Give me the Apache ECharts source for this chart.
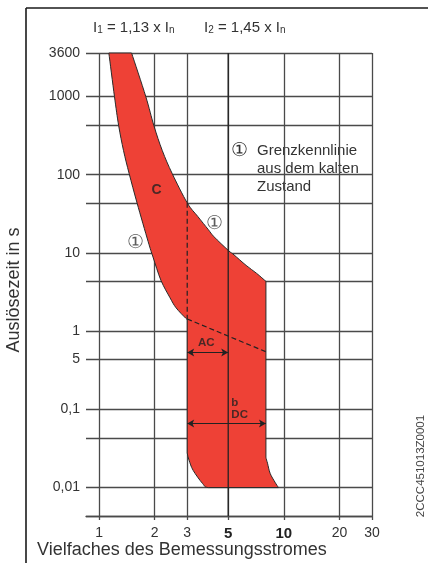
<!DOCTYPE html>
<html>
<head>
<meta charset="utf-8">
<script src="https://cdn.jsdelivr.net/npm/echarts@6/dist/echarts.min.js"></script>
<style>
  html, body { margin: 0; padding: 0; background: #fff; }
  #chart { width: 428px; height: 563px; }
</style>
</head>
<body>
<div id="chart"></div>
<script>
// Auslösekennlinie C: Vielfaches des Bemessungsstromes (x) gegen Auslösezeit in s (y)

// axis ticks and grid
const xTicks = [1, 2, 3, 5, 10, 20, 30];
const yGridValues = [0.00433, 0.01, 0.0433, 0.1, 0.433, 1, 4.33, 10, 43.3, 100, 433, 1000, 3600];
const yLabelValues = [0.01, 0.1, 0.433, 1, 10, 100, 1000, 3600];
const yLabelTexts = ['0,01', '0,1', '5', '1', '10', '100', '1000', '3600'];

// lower limit of the band (from 1 h down to the instantaneous release)
const lowerCurveX = [1.13, 1.212, 1.277, 1.357, 1.456, 1.607, 1.845, 1.959, 2.163, 2.42, 2.61, 2.94, 3];
const lowerCurveY = [3600, 1000, 425, 203, 103, 43.3, 13.9, 8.87, 4.46, 2.68, 1.99, 1.47, 1.43];
// upper limit of the band (from 1 h down to the corner of the instantaneous release)
const upperCurveX = [1.5, 1.79, 1.98, 2.2, 2.49, 3, 3.42, 3.9, 4.19, 5, 5.38, 6.25, 7.11, 8];
const upperCurveY = [3600, 1000, 425, 203, 103, 43.7, 29.3, 19.9, 16.1, 10.8, 9.42, 6.93, 5.5, 4.33];
// instantaneous release: foot of the left edge
const leftFootX = [3, 3.07, 3.23, 3.63, 3.9];
const leftFootY = [0.0277, 0.0224, 0.0166, 0.0113, 0.01];
// instantaneous release: foot of the right edge (top to bottom)
const rightFootX = [8, 8.16, 8.43, 8.96, 9.35];
const rightFootY = [0.0245, 0.0205, 0.0152, 0.0117, 0.01];

// dashed limit lines
const dashVerticalX = [3, 3];
const dashVerticalY = [43.7, 1.43];
const dashSlopeX = [3, 8];
const dashSlopeY = [1.43, 0.545];

// AC / DC ranges of the instantaneous release
const acRange = [3, 5];
const acTime = 0.533;
const dcRange = [3, 8];
const dcTime = 0.0658;

const RED = '#EE4136';
const INK = '#333333';
const GRID = '#4a4a4a';
const FONT = '"Liberation Sans", Arial, Helvetica, sans-serif';

const zip = (xs, ys) => xs.map((x, i) => [x, ys[i]]);

// Catmull-Rom segments through pixel points (p[0] is assumed to be the current point)
function smoothSegs(p, before, after) {
  let d = '';
  for (let i = 0; i < p.length - 1; i++) {
    const p0 = i === 0 ? (before || p[0]) : p[i - 1];
    const p1 = p[i], p2 = p[i + 1];
    const p3 = i + 2 < p.length ? p[i + 2] : (after || p2);
    const c1 = [p1[0] + (p2[0] - p0[0]) / 6, p1[1] + (p2[1] - p0[1]) / 6];
    const c2 = [p2[0] - (p3[0] - p1[0]) / 6, p2[1] - (p3[1] - p1[1]) / 6];
    d += ' C' + c1[0] + ',' + c1[1] + ' ' + c2[0] + ',' + c2[1] + ' ' + p2[0] + ',' + p2[1];
  }
  return d;
}

function bandPath(api) {
  const c = p => api.coord(p);
  const lower = zip(lowerCurveX, lowerCurveY).map(c);
  const leftFoot = zip(leftFootX, leftFootY).map(c);
  const rightFoot = zip(rightFootX, rightFootY).map(c).reverse();
  const upper = zip(upperCurveX, upperCurveY).map(c).reverse();
  const pt = p => p[0] + ',' + p[1];
  // short vertical lead-ins keep the feet tangent to the straight edges
  const leftLead = c([leftFootX[0], leftFootY[0] * 1.25]);
  const rightLead = c([rightFootX[0], rightFootY[0] * 1.25]);
  let d = 'M' + pt(lower[0]);
  d += smoothSegs(lower);
  d += ' L' + pt(leftFoot[0]);
  d += smoothSegs(leftFoot, leftLead, c([5, leftFootY[leftFootY.length - 1]]));
  d += ' L' + pt(rightFoot[0]);
  d += smoothSegs(rightFoot, null, rightLead);
  d += ' L' + pt(upper[0]);
  d += smoothSegs(upper);
  d += ' Z';
  return d;
}

const chart = echarts.init(document.getElementById('chart'), null, { renderer: 'canvas' });

chart.setOption({
  animation: false,
  backgroundColor: '#ffffff',
  grid: { left: 86, right: 56, top: 53, bottom: 47 },
  xAxis: {
    type: 'log',
    logBase: 10,
    min: 0.85,
    max: 30,
    axisLine: { show: true, lineStyle: { color: GRID, width: 1.3 } },
    axisTick: { show: true, customValues: xTicks, length: 4, lineStyle: { color: GRID, width: 1.3 } },
    axisLabel: {
      customValues: xTicks,
      margin: 10,
      color: INK,
      fontSize: 14,
      fontFamily: FONT,
      formatter: v => {
        const n = Math.round(v);
        return (n === 5 || n === 10) ? '{b|' + n + '}' : String(n);
      },
      rich: { b: { fontWeight: 'bold', fontSize: 15, color: '#222', fontFamily: FONT } }
    },
    splitLine: { show: true, lineStyle: { color: GRID, width: 1.3 } },
    minorTick: { show: false },
    minorSplitLine: { show: false }
  },
  yAxis: {
    type: 'log',
    logBase: 10,
    min: 0.00433,
    max: 3600,
    axisLine: { show: false },
    axisTick: { show: false, customValues: yGridValues },
    axisLabel: {
      customValues: yLabelValues,
      margin: 6,
      color: INK,
      fontSize: 14,
      fontFamily: FONT,
      formatter: v => {
        let best = 0;
        yLabelValues.forEach((t, i) => {
          if (Math.abs(Math.log10(t) - Math.log10(v)) < Math.abs(Math.log10(yLabelValues[best]) - Math.log10(v))) best = i;
        });
        return yLabelTexts[best];
      }
    },
    splitLine: { show: true, lineStyle: { color: GRID, width: 1.3 } },
    minorTick: { show: false },
    minorSplitLine: { show: false }
  },
  graphic: [
    { type: 'line', shape: { x1: 26, y1: 8, x2: 428, y2: 8 }, style: { stroke: '#1a1a1a', lineWidth: 1.6 }, silent: true },
    { type: 'line', shape: { x1: 26, y1: 8, x2: 26, y2: 563 }, style: { stroke: '#1a1a1a', lineWidth: 1.6 }, silent: true },
    {
      type: 'text', left: 93, top: 20, silent: true,
      style: {
        text: '{n|I}{s|1}{n| = 1,13 x I}{s|n}',
        rich: {
          n: { fontSize: 15, lineHeight: 20, verticalAlign: 'bottom', fill: INK, fontFamily: FONT },
          s: { fontSize: 10, lineHeight: 12, verticalAlign: 'bottom', fill: INK, fontFamily: FONT }
        }
      }
    },
    {
      type: 'text', left: 204, top: 20, silent: true,
      style: {
        text: '{n|I}{s|2}{n| = 1,45 x I}{s|n}',
        rich: {
          n: { fontSize: 15, lineHeight: 20, verticalAlign: 'bottom', fill: INK, fontFamily: FONT },
          s: { fontSize: 10, lineHeight: 12, verticalAlign: 'bottom', fill: INK, fontFamily: FONT }
        }
      }
    },
    {
      type: 'text', x: 239, y: 151, silent: true,
      style: { text: '①', fontSize: 19, fill: INK, align: 'center', verticalAlign: 'middle', fontFamily: FONT }
    },
    {
      type: 'text', x: 257, y: 142, silent: true,
      style: { text: 'Grenzkennlinie\naus dem kalten\nZustand', fontSize: 15, lineHeight: 18, fill: INK, fontFamily: FONT, verticalAlign: 'top' }
    },
    {
      type: 'text', x: 37, y: 550, silent: true,
      style: { text: 'Vielfaches des Bemessungsstromes', fontSize: 18, fill: INK, fontFamily: FONT, verticalAlign: 'middle' }
    },
    {
      type: 'text', x: 14, y: 290, rotation: Math.PI / 2, silent: true,
      style: { text: 'Auslösezeit in s', fontSize: 18, fill: INK, fontFamily: FONT, align: 'center', verticalAlign: 'middle' }
    },
    {
      type: 'text', x: 421, y: 466, rotation: Math.PI / 2, silent: true,
      style: { text: '2CCC451013Z0001', fontSize: 11.5, fill: '#444', fontFamily: FONT, align: 'center', verticalAlign: 'middle' }
    }
  ],
  series: [
    {
      type: 'custom',
      coordinateSystem: 'cartesian2d',
      silent: true,
      z: 2,
      data: [[3, 1]],
      renderItem: (params, api) => ({
        type: 'path',
        shape: { pathData: bandPath(api) },
        style: { fill: RED, stroke: '#2a2a2a', lineWidth: 1 }
      })
    },
    {
      // rated-current multiple 5 drawn across the band
      type: 'line', silent: true, z: 4, symbol: 'none',
      data: [[5, 0.00433], [5, 3600]],
      lineStyle: { color: '#222', width: 1.3 }
    },
    {
      type: 'line', silent: true, z: 4, symbol: 'none',
      data: zip(dashVerticalX, dashVerticalY),
      lineStyle: { color: '#222', width: 1.2, type: [5, 3] }
    },
    {
      type: 'line', silent: true, z: 4, symbol: 'none',
      data: zip(dashSlopeX, dashSlopeY),
      lineStyle: { color: '#222', width: 1.2, type: [5, 3] },
      markLine: {
        silent: true,
        symbol: ['arrow', 'arrow'],
        symbolSize: [6, 7],
        label: { show: false },
        lineStyle: { color: '#222', width: 1.2, type: 'solid' },
        data: [
          [{ coord: [acRange[0], acTime] }, { coord: [acRange[1], acTime] }],
          [{ coord: [dcRange[0], dcTime] }, { coord: [dcRange[1], dcTime] }]
        ]
      }
    },
    {
      type: 'scatter', silent: true, z: 6, symbolSize: 0,
      label: { show: true, position: 'inside', color: INK, fontFamily: FONT },
      data: [
        { value: [2.05, 64], label: { formatter: 'C', fontWeight: 'bold', fontSize: 14, color: '#222' } },
        { value: [1.57, 13.4], label: { formatter: '①', fontSize: 19 } },
        { value: [4.2, 23.8], label: { formatter: '①', fontSize: 19 } },
        { value: [3.8, 0.7], label: { formatter: 'AC', fontWeight: 'bold', fontSize: 11.5, color: '#222' } },
        { value: [5.2, 0.103], label: { formatter: 'b\nDC', fontWeight: 'bold', fontSize: 11.5, lineHeight: 12, align: 'left', color: '#222' } }
      ]
    }
  ]
});
</script>
</body>
</html>
